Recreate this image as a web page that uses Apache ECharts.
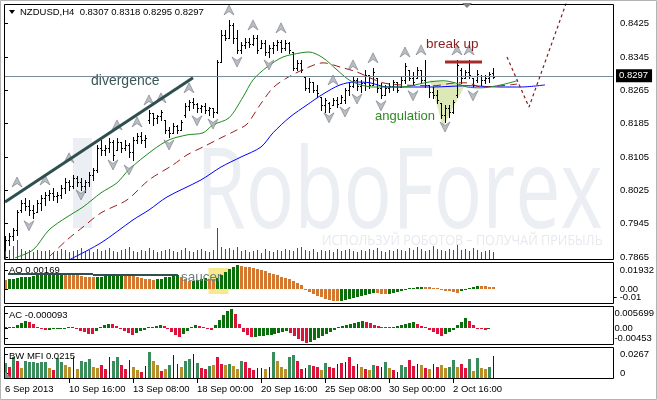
<!DOCTYPE html>
<html><head><meta charset="utf-8">
<script src="https://cdn.jsdelivr.net/npm/echarts@6.0.0/dist/echarts.min.js"></script>
<style>html,body{margin:0;padding:0;background:#fff}#c{width:657px;height:400px}</style>
</head><body><div id="c"></div>
<script>
// ---------------- data ----------------
const barOpen=[.7892,.7906,.7916,.7930,.7978,.7995,.7988,.7978,.7973,.7995,.8007,.8014,.8019,.8012,.8014,.8031,.8045,.8036,.8055,.8045,
.8036,.8045,.8062,.8074,.8127,.8122,.8127,.8141,.8122,.8141,.8127,.8134,.8117,.8146,.8156,.8146,.8194,.8211,.8199,.8204,
.8194,.8170,.8163,.8180,.8170,.8206,.8228,.8237,.8232,.8223,.8228,.8218,.8223,.8213,.8333,.8398,.8391,.8422,.8391,.8362,
.8374,.8381,.8376,.8391,.8367,.8379,.8357,.8367,.8374,.8381,.8367,.8379,.8357,.8319,.8331,.8297,.8271,.8285,.8266,.8249,
.8230,.8235,.8230,.8242,.8235,.8242,.8266,.8276,.8290,.8276,.8283,.8302,.8278,.8295,.8271,.8254,.8271,.8276,.8285,.8273,
.8290,.8314,.8295,.8295,.8314,.8290,.8278,.8261,.8254,.8235,.8206,.8223,.8213,.8254,.8314,.8295,.8309,.8295,.8290,.8300,
.8290,.8295,.8307];
const barHigh=[.7916,.7923,.7935,.7978,.8002,.8007,.8002,.7990,.8002,.8014,.8021,.8026,.8031,.8021,.8038,.8055,.8050,.8062,.8060,.8055,
.8050,.8069,.8079,.8134,.8146,.8134,.8151,.8146,.8151,.8141,.8146,.8139,.8153,.8163,.8165,.8158,.8218,.8211,.8206,.8218,
.8194,.8177,.8187,.8182,.8194,.8235,.8242,.8247,.8235,.8230,.8235,.8225,.8223,.8338,.8410,.8410,.8434,.8427,.8410,.8381,
.8391,.8391,.8398,.8398,.8386,.8386,.8374,.8381,.8386,.8386,.8386,.8381,.8357,.8338,.8338,.8297,.8295,.8285,.8278,.8249,
.8247,.8237,.8247,.8249,.8254,.8271,.8285,.8297,.8295,.8290,.8314,.8302,.8319,.8295,.8283,.8278,.8283,.8290,.8285,.8297,
.8331,.8314,.8309,.8321,.8314,.8338,.8278,.8273,.8266,.8235,.8230,.8230,.8242,.8338,.8319,.8314,.8338,.8295,.8314,.8302,
.8302,.8309,.8318];
const barLow=[.7882,.7894,.7906,.7918,.7973,.7978,.7966,.7959,.7973,.7978,.7990,.8002,.8002,.7997,.8007,.8019,.8026,.8031,.8036,.8026,
.8021,.8036,.8050,.8069,.8110,.8110,.8117,.8098,.8122,.8117,.8122,.8105,.8098,.8139,.8139,.8129,.8187,.8182,.8187,.8194,
.8163,.8153,.8163,.8163,.8170,.8201,.8218,.8223,.8213,.8213,.8211,.8206,.8201,.8211,.8333,.8386,.8391,.8379,.8355,.8355,
.8367,.8369,.8374,.8355,.8367,.8350,.8345,.8355,.8362,.8357,.8362,.8355,.8314,.8314,.8309,.8266,.8261,.8261,.8249,.8218,
.8213,.8213,.8230,.8225,.8235,.8235,.8254,.8273,.8266,.8261,.8266,.8271,.8278,.8261,.8247,.8254,.8261,.8266,.8261,.8273,
.8283,.8290,.8278,.8295,.8283,.8273,.8249,.8247,.8235,.8199,.8189,.8201,.8211,.8249,.8283,.8295,.8295,.8273,.8285,.8278,
.8283,.8285,.8295];
const barClose=[.7906,.7916,.7930,.7973,.7995,.7988,.7978,.7971,.7995,.8007,.8014,.8019,.8012,.8014,.8031,.8045,.8036,.8055,.8045,.8036,
.8045,.8062,.8074,.8127,.8122,.8127,.8141,.8110,.8141,.8127,.8134,.8117,.8146,.8156,.8146,.8151,.8211,.8199,.8204,.8213,
.8170,.8163,.8180,.8170,.8189,.8228,.8237,.8232,.8223,.8228,.8218,.8223,.8213,.8333,.8398,.8391,.8422,.8391,.8362,.8374,
.8381,.8376,.8391,.8362,.8379,.8357,.8367,.8374,.8381,.8367,.8379,.8362,.8319,.8331,.8314,.8271,.8285,.8266,.8259,.8230,
.8242,.8223,.8242,.8232,.8249,.8266,.8276,.8290,.8276,.8283,.8302,.8278,.8309,.8271,.8254,.8271,.8276,.8285,.8266,.8290,
.8323,.8295,.8285,.8314,.8290,.8278,.8261,.8254,.8242,.8206,.8223,.8213,.8237,.8326,.8295,.8309,.8302,.8278,.8304,.8290,
.8295,.8304,.8297];
const tickVolume=[1200,1000,1400,2000,1100,900,1000,800,1000,900, 900,1000,800,900,1100,1000,800,900,1000,1200,
900,1000,800,1100,900,1000,1200,900,800,1000, 1100,1300,900,800,1000,900,1200,1000,800,900,
1000,1100,900,800,1000,1200,900,800,1000,1100, 900,800,1000,3200,1300,1100,1200,1000,1300,900,
1000,800,900,1000,700,1100,900,800,1000,900, 1100,1000,900,1200,1300,1000,900,1100,800,1000,
900,1000,800,1100,900,1000,1100,900,800,1000, 900,1100,1000,1200,900,800,1000,900,1100,1000,
900,1200,1000,1300,1100,900,1000,1400,1100,1000, 900,1100,1000,1500,1000,1100,900,1200,1000,800,
900,1000,800];
// Alligator lines [bar index, price]
const jawLine=[[16,.7858],[24,.7899],[32,.7954],[36,.7978],[40.5,.8009],[49,.8050],[54,.8081],[59,.8105],[64,.8129],[67,.8163],[71.25,.8201],[75.5,.8230],[79.5,.8256],[83.75,.8278],[87.5,.8285],[91.25,.8283],[95.5,.8273],[100.5,.8273],[107,.8273],[115.5,.8276],[124,.8273],[129,.8273],[135,.8278]];
const teethLine=[[11,.7865],[15.5,.7906],[19.5,.7937],[24,.7971],[30.5,.8002],[36,.8050],[42,.8086],[45.5,.8110],[49.5,.8129],[54,.8151],[58,.8170],[60.5,.8184],[63.75,.8230],[67,.8271],[70.5,.8295],[75.5,.8319],[79.5,.8331],[83.75,.8321],[88,.8309],[91.25,.8295],[94.5,.8283],[99,.8278],[107,.8276],[113,.8283],[115.5,.8283],[119,.8273],[124,.8276],[128,.8280]];
const lipsLine=[[2.5,.7863],[7,.7882],[11,.7930],[15.5,.7961],[19.5,.7985],[24,.8019],[28,.8043],[31,.8075],[37,.8122],[41,.8146],[45.5,.8158],[49.5,.8163],[52,.8182],[56,.8199],[59.5,.8249],[62,.8290],[65.5,.8321],[69.5,.8345],[74,.8355],[76,.8357],[79.5,.8343],[83,.8314],[86,.8290],[89,.8278],[92,.8273],[99,.8273],[106,.8285],[109.5,.8288],[112.5,.8283],[115.5,.8273],[119,.8271],[124,.8278],[128,.8288]];
const upFractals=[[3,.8045],[10,.8050],[16,.8103],[28,.8182],[33,.8189],[36,.8242],[39,.8247],[46,.8271],[56,.8458],[62,.8422],[69,.8415],[82,.8290],[87,.8326],[92,.8343],[100,.8357],[104,.8362],[113,.8362],[116,.8362]];
const downFractals=[[6,.7940],[19,.8014],[27,.8086],[31,.8074],[41,.8134],[48,.8192],[52,.8184],[58,.8333],[66,.8326],[81,.8199],[85,.8213],[88,.8244],[94,.8228],[102,.8252],[110,.8177],[117,.8252]];
// annotations [bar index, value]
const divergenceLine=[[0,.7997],[47,.8295]];
const breakUpLine=[[110,.8333],[119.25,.8333]];
const forecastLine=[[125.5,.8345],[131,.8225],[141.25,.8500]];
const angulationArea=[[106.25,.8290],[115,.8278],[109.5,.8177]];
const saucerLineA=[[0.75,.01208],[22,.01208]];
const saucerLineB=[[22,.01127],[43.25,.01127]];
const saucerBox=[[50.9,.0169],[55.9,-.0040]];
// oscillators
const aoValues=[.00725,.00805,.00845,.00886,.00926,.00966,.01006,.01047,.01087,.01127,.01151,.01175,.01199,.01224,.01248,.01208,.01167,.01127,.01087,.01047,
.01006,.00966,.00926,.00966,.01006,.01047,.01087,.01127,.01167,.01208,.01167,.01127,.01047,.00966,.00886,.00805,.00765,.00725,.00765,.00845,
.00926,.01006,.01087,.01127,.00966,.00805,.00644,.00684,.00725,.00805,.00886,.00845,.00805,.00886,.01127,.01369,.01610,.01811,.01932,.01892,
.01811,.01771,.01691,.01610,.01530,.01449,.01328,.01208,.01087,.01006,.00886,.00765,.00644,.00483,.00282,-.00081,-.00242,-.00403,-.00564,-.00684,
-.00805,-.00886,-.00950,-.00998,-.00966,-.00886,-.00805,-.00725,-.00644,-.00564,-.00483,-.00403,-.00322,-.00362,-.00403,-.00443,-.00403,-.00322,-.00242,-.00161,
-.00081,.00040,.00081,.00121,.00161,.00145,.00121,.00081,.00024,-.00040,-.00121,-.00201,-.00258,-.00306,-.00201,-.00081,.00064,.00161,.00242,.00225,
.00209,.00193,.00169];
const acValues=[.00009,.00018,.0003,.0009,.0015,.0021,.0018,.0012,.00045,-.0003,-.0006,-.00045,-.0003,-.00015,-.00009,-.00003,.00006,.00009,-.0003,-.00075,
-.0012,-.00165,-.0018,-.0009,.0003,.0009,.00135,.0012,.0006,-.0003,-.0009,-.0015,-.0021,-.0015,-.0009,-.00045,.00015,.00045,.00075,.0009,
.0006,-.0003,-.0012,-.0021,-.0027,-.0018,-.0009,.00015,.0009,.0006,.00015,-.0003,-.0006,.0009,.0024,.0039,.0051,.005699,.0042,.0012,
-.0012,-.0021,-.0027,-.00255,-.0024,-.00225,-.0021,-.00195,-.0018,-.0015,-.0012,-.0009,-.0015,-.0024,-.0033,-.0039,-.00453,-.0042,-.0036,-.003,
-.0024,-.0018,-.0012,-.0006,.0003,.0006,.0009,.0012,.0015,.0018,.0021,.0018,.0015,.00105,.0006,.0003,.00015,.00006,.0003,.0006,
.0009,.0012,.0015,.0018,.0012,.0006,.00015,-.0006,-.0012,-.0018,-.0024,-.0018,-.0012,-.00045,.0009,.0018,.003,.0021,.0009,-.0003,
-.00039,-.00045,-.000093];
const mfiValues=[.0147,.0110,.0202,.0166,.0101,.0166,.0156,.0156,.0147,.0156, .0156,.0101,.0083,.0193,.0156,.0129,.0110,.0202,.0092,.0166,
.0156,.0184,.0110,.0101,.0129,.0092,.0202,.0166,.0202,.0129, .0092,.0175,.0110,.0083,.0064,.0120,.0248,.0166,.0129,.0074,
.0092,.0129,.0221,.0138,.0110,.0166,.0184,.0230,.0147,.0101, .0092,.0120,.0129,.0202,.0138,.0129,.0138,.0120,.0092,.0166,
.0156,.0101,.0083,.0101,.0101,.0092,.0110,.0248,.0166,.0110, .0092,.0202,.0221,.0166,.0092,.0101,.0129,.0120,.0110,.0083,
.0147,.0110,.0101,.0138,.0147,.0156,.0202,.0120,.0138,.0110, .0092,.0083,.0129,.0120,.0110,.0156,.0101,.0083,.0064,.0129,
.0110,.0175,.0120,.0138,.0129,.0101,.0092,.0138,.0110,.0129, .0101,.0110,.0175,.0110,.0138,.0101,.0184,.0074,.0193,.0101,
.0092,.0110,.0215];
const mfiKinds=('grgroggggg'+'gorggoobog'+'ggoorrbggr'+'rboorbgoor'+'ogbboggbgr'+'rgorrogoog'+'rrrbbobgoo'+'oggrrbgrro'+'grrbrbrrbo'+'rogrbgorbg'+'grrborobro'+'oggorrgogo'+'ogb').split('');
// axis labels
const priceTicks=[0.7865,0.7945,0.8025,0.8105,0.8185,0.8265,0.8345,0.8425];
const timeTickIdx=[0,16,32,48,64,80,96,112];
const timeTickLabels=['6 Sep 2013','10 Sep 16:00','13 Sep 08:00','18 Sep 00:00','20 Sep 16:00','25 Sep 08:00','30 Sep 00:00','2 Oct 16:00'];
const aoLabelPos=[0.0153,0], aoLabelText=['0.01932','0.00'];
const aoMinLabelPos=[-0.00644], aoMinLabelText=['-0.01'];
const acLabelPos=[0.0045,0,-0.0031], acLabelText=['0.005699','0.00','-0.00453'];
const mfiLabelPos=[0.023,0.0055], mfiLabelText=['0.0267','0'];

// ---------------- layout / style ----------------
const FONT='Liberation Sans';
const PANES=[{top:4,height:256},{top:262,height:42},{top:306,height:39},{top:347,height:32}];
const LEFT=4, RIGHT=43, PLOT_W=610;
const C={aoUp:'#0a6e0a',aoDn:'#d4782f',acUp:'#0a6e0a',acDn:'#dc143c',g:'#3a8c5c',o:'#b8902a',r:'#dc143c',b:'#10108a'};

const chart=echarts.init(document.getElementById('c'),null,{renderer:'canvas',width:657,height:400});
const xAxisBase=(g)=>({type:'value',gridIndex:g,min:-0.25,max:152.25,axisLine:{show:false},axisTick:{show:false},axisLabel:{show:false},splitLine:{show:false}});
function labelLookup(pos,txt){return v=>{let k=0,d=1e9;pos.forEach((p,j)=>{if(Math.abs(p-v)<d){d=Math.abs(p-v);k=j;}});return txt[k];};}
const ylab={fontFamily:FONT,fontSize:9.5,color:'#000',margin:6,hideOverlap:false};
function sideAxis(grid,min,max,pos,txt){
  return {type:'value',gridIndex:grid,position:'right',offset:0,min:min,max:max,splitLine:{show:false},axisLine:{show:false},
    axisTick:{show:true,customValues:pos,length:3,lineStyle:{color:'#000'}},
    axisLabel:Object.assign({customValues:pos,formatter:labelLookup(pos,txt)},ylab)};
}

function histRender(values,colorOf,widthOf){
  return (params,api)=>{
    const i=api.value(0),v=api.value(1);
    const p0=api.coord([i,0]),p1=api.coord([i,v]);
    const w=widthOf(params.dataIndex);
    const x=Math.round(p0[0])-(w>=3?1:0);
    const y0=Math.round(p0[1]),y1=Math.round(p1[1]);
    let top=Math.min(y0,y1),h=Math.abs(y1-y0);
    if(h<1){h=1;top=v<0?y0:y0-1;}
    return {type:'rect',shape:{x:x,y:top,width:w,height:h},style:{fill:colorOf(params.dataIndex)}};
  };
}
const idxData=(arr)=>arr.map((v,i)=>[i,v]);

const option={
  animation:false,
  backgroundColor:'#fff',
  grid:PANES.map(p=>({left:LEFT,right:RIGHT,top:p.top,height:p.height,show:false})),
  xAxis:[xAxisBase(0),xAxisBase(1),xAxisBase(2),Object.assign(xAxisBase(3),{
    axisLabel:{show:true,customValues:timeTickIdx,align:'left',margin:5,fontFamily:FONT,fontSize:9.5,color:'#000',hideOverlap:false,
      formatter:v=>timeTickLabels[timeTickIdx.indexOf(Math.round(v))]||''},
    axisTick:{show:true,customValues:timeTickIdx.slice(1),length:4,lineStyle:{color:'#000'}}})],
  yAxis:[
    {type:'value',gridIndex:0,position:'right',min:0.78578,max:0.84722,splitLine:{show:false},axisLine:{show:false},
     axisTick:{show:true,customValues:priceTicks,length:3,lineStyle:{color:'#000'}},
     axisLabel:Object.assign({customValues:priceTicks,formatter:v=>v.toFixed(4)},ylab)},
    {type:'value',gridIndex:0,position:'left',min:0,max:25600,show:false},
    sideAxis(1,-0.01208,0.02174,aoLabelPos,aoLabelText),
    sideAxis(2,-0.0051,0.0066,acLabelPos,acLabelText),
    sideAxis(3,0,0.02944,mfiLabelPos,mfiLabelText),
    sideAxis(1,-0.01208,0.02174,aoMinLabelPos,aoMinLabelText)
  ],
  series:[
    {type:'custom',xAxisIndex:0,yAxisIndex:0,z:1,data:[[0]],silent:true,
     renderItem:(params,api)=>({type:'polygon',shape:{points:angulationArea.map(p=>api.coord(p))},style:{fill:'#dce9b6'}})},
    {type:'custom',xAxisIndex:0,yAxisIndex:1,z:1,silent:true,data:idxData(tickVolume),
     renderItem:histRender(tickVolume,()=>'#0a7a0a',()=>1)},
    {type:'custom',xAxisIndex:0,yAxisIndex:0,z:3,silent:true,
     data:barClose.map((c,i)=>[i,barOpen[i],barHigh[i],barLow[i],c]),
     renderItem:(params,api)=>{
       const i=api.value(0);
       const ph=api.coord([i,api.value(2)]),pl=api.coord([i,api.value(3)]);
       const po=api.coord([i,api.value(1)]),pc=api.coord([i,api.value(4)]);
       const x=Math.round(ph[0]),yh=Math.round(ph[1]),yl=Math.round(pl[1]);
       return {type:'group',children:[
         {type:'rect',shape:{x:x,y:yh,width:1,height:Math.max(1,yl-yh+1)},style:{fill:'#000'}},
         {type:'rect',shape:{x:x-1,y:Math.round(po[1]),width:1,height:1},style:{fill:'#000'}},
         {type:'rect',shape:{x:x+1,y:Math.round(pc[1]),width:1,height:1},style:{fill:'#000'}}]};
     }},
    {type:'line',xAxisIndex:0,yAxisIndex:0,z:4,data:jawLine,showSymbol:false,smooth:0.3,silent:true,lineStyle:{color:'#0000ff',width:1},
     markLine:{silent:true,symbol:['none','none'],data:[{yAxis:barClose[barClose.length-1]}],lineStyle:{color:'#7a8b99',width:1,type:'solid'},
       label:{show:true,position:'end',distance:2,formatter:()=>barClose[barClose.length-1].toFixed(4),backgroundColor:'#000',color:'#fff',
         fontFamily:FONT,fontSize:9.5,padding:[2,4,1,3]}}},
    {type:'line',xAxisIndex:0,yAxisIndex:0,z:4,data:teethLine,showSymbol:false,smooth:0.3,silent:true,lineStyle:{color:'#9a1c1c',width:1,type:[8,5]}},
    {type:'line',xAxisIndex:0,yAxisIndex:0,z:4,data:lipsLine,showSymbol:false,smooth:0.3,silent:true,lineStyle:{color:'#1f8a1f',width:1}},
    {type:'scatter',xAxisIndex:0,yAxisIndex:0,z:5,silent:true,data:upFractals,symbol:'path://M5 0 L10 10 L5 6.5 L0 10 Z',symbolSize:[10,10],
     itemStyle:{color:'#a9aeb5',borderColor:'#6c7178',borderWidth:0.7}},
    {type:'scatter',xAxisIndex:0,yAxisIndex:0,z:5,silent:true,data:downFractals,symbol:'path://M5 10 L10 0 L5 3.5 L0 0 Z',symbolSize:[10,10],
     itemStyle:{color:'#a9aeb5',borderColor:'#6c7178',borderWidth:0.7}},
    {type:'line',xAxisIndex:0,yAxisIndex:0,z:6,data:divergenceLine,showSymbol:false,silent:true,lineStyle:{color:'#2f4f4f',width:3}},
    {type:'line',xAxisIndex:0,yAxisIndex:0,z:6,data:breakUpLine,showSymbol:false,silent:true,lineStyle:{color:'#a52a2a',width:3}},
    {type:'line',xAxisIndex:0,yAxisIndex:0,z:6,data:forecastLine,showSymbol:false,silent:true,lineStyle:{color:'#8b1a1a',width:1.2,type:[3,3]}},
    {type:'custom',xAxisIndex:1,yAxisIndex:2,z:1,silent:true,data:[[0]],
     renderItem:(params,api)=>{const a=api.coord(saucerBox[0]),b=api.coord(saucerBox[1]);
       return {type:'rect',shape:{x:a[0],y:a[1],width:b[0]-a[0],height:b[1]-a[1]},style:{fill:'#f8e98c'}};}},
    {type:'custom',xAxisIndex:1,yAxisIndex:2,z:2,silent:true,data:idxData(aoValues),
     renderItem:histRender(aoValues,i=>(i>0&&aoValues[i]>aoValues[i-1])?C.aoUp:C.aoDn,()=>3)},
    {type:'line',xAxisIndex:1,yAxisIndex:2,z:6,data:saucerLineA,showSymbol:false,silent:true,lineStyle:{color:'#2f4f4f',width:2}},
    {type:'line',xAxisIndex:1,yAxisIndex:2,z:6,data:saucerLineB,showSymbol:false,silent:true,lineStyle:{color:'#2f4f4f',width:2}},
    {type:'custom',xAxisIndex:2,yAxisIndex:3,z:2,silent:true,data:idxData(acValues),
     renderItem:histRender(acValues,i=>(i===0||acValues[i]>acValues[i-1])?C.acUp:C.acDn,()=>3)},
    {type:'custom',xAxisIndex:3,yAxisIndex:4,z:2,silent:true,data:idxData(mfiValues),
     renderItem:histRender(mfiValues,i=>C[mfiKinds[i]],i=>mfiKinds[i]==='b'?1:3)}
  ],
  graphic:[
    {type:'text',z:0,silent:true,x:196,y:196,scaleX:0.72,style:{text:'RoboForex',font:'112px "Open Sans"',fill:'#ebeef2',verticalAlign:'middle'}},
    {type:'rect',z:0,silent:true,shape:{x:73,y:138,width:19,height:90},style:{fill:'#ebeef2'}},
    {type:'text',z:0,silent:true,x:322,y:241,scaleX:0.84,style:{text:'ИСПОЛЬЗУЙ РОБОТОВ – ПОЛУЧАЙ ПРИБЫЛЬ',font:'15px "Open Sans"',fill:'#e6e9ee',verticalAlign:'middle'}},
    ...PANES.map(p=>({type:'rect',z:50,silent:true,shape:{x:LEFT+0.5,y:p.top+0.5,width:PLOT_W-1,height:p.height-1},style:{fill:null,stroke:'#000',lineWidth:1}})),
    {type:'rect',z:50,silent:true,shape:{x:0.5,y:0.5,width:656,height:399},style:{fill:null,stroke:'#b4b4b4',lineWidth:1}},
    {type:'polygon',z:60,silent:true,shape:{points:[[9,10],[15,10],[12,14]]},style:{fill:'#000'}},
    {type:'text',z:60,silent:true,x:20,y:12,style:{text:'NZDUSD,H4  0.8307 0.8318 0.8295 0.8297',font:'9.5px "Liberation Sans"',fill:'#000',verticalAlign:'middle'}},
    {type:'polygon',z:60,silent:true,shape:{points:[[462,3],[472,3],[467,8]]},style:{fill:'#7d8288'}},
    {type:'text',z:60,silent:true,x:91,y:81,style:{text:'divergence',font:'14px "Liberation Sans"',fill:'#3b5656',verticalAlign:'middle'}},
    {type:'text',z:60,silent:true,x:426,y:44,style:{text:'break up',font:'13.5px "Liberation Sans"',fill:'#8b1a1a',verticalAlign:'middle'}},
    {type:'text',z:60,silent:true,x:375,y:116,style:{text:'angulation',font:'13px "Liberation Sans"',fill:'#2e8b22',verticalAlign:'middle'}},
    {type:'text',z:60,silent:true,x:181,y:277,style:{text:'saucer',font:'13.5px "Liberation Sans"',fill:'#6f7f7f',verticalAlign:'middle'}},
    {type:'text',z:60,silent:true,x:9,y:270,style:{text:'AO 0.00169',font:'9.5px "Liberation Sans"',fill:'#000',verticalAlign:'middle'}},
    {type:'text',z:60,silent:true,x:9,y:315,style:{text:'AC -0.000093',font:'9.5px "Liberation Sans"',fill:'#000',verticalAlign:'middle'}},
    {type:'text',z:60,silent:true,x:9,y:356,style:{text:'BW MFI 0.0215',font:'9.5px "Liberation Sans"',fill:'#000',verticalAlign:'middle'}},
    {type:'polygon',z:60,silent:true,shape:{points:[[5,372],[5,378],[11,378]]},style:{fill:'#8a8f96'}}
  ]
};
chart.setOption(option);
</script>
</body></html>
